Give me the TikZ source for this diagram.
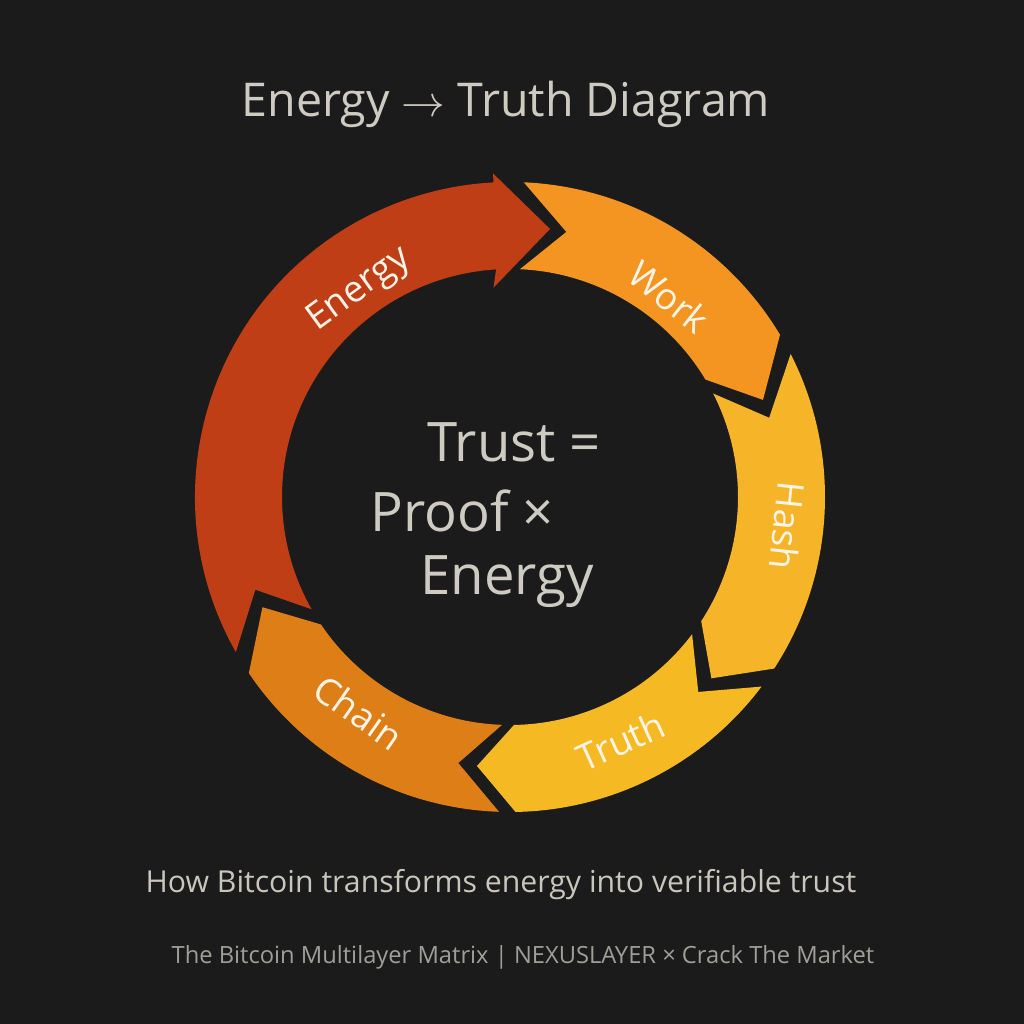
\documentclass[tikz,border=0pt]{standalone}
\usepackage{fontspec}
\setmainfont{Open Sans}
\usetikzlibrary{calc}
\definecolor{BgDark}{RGB}{27,27,27}
\definecolor{EnergyRed}{RGB}{191,62,22}
\definecolor{WorkOrange}{RGB}{244,148,33}
\definecolor{HashGold}{RGB}{246,180,40}
\definecolor{TruthYellow}{RGB}{245,186,35}
\definecolor{ChainOrange}{RGB}{222,126,22}
\definecolor{TextLight}{RGB}{206,204,194}
\definecolor{LabelCream}{RGB}{252,244,230}
\definecolor{FootGray}{RGB}{160,158,152}

\newcommand{\Rout}{315}
\newcommand{\Rin}{228}
\newcommand{\Rmid}{271}
% ring segment: tail, notch, head, tip, colour
\newcommand{\ringseg}[5]{%
  \fill[#5] (#1:\Rout) arc[start angle=#1, end angle=#3, radius=\Rout]
    -- (#4:\Rmid) -- (#3:\Rin) arc[start angle=#3, end angle=#1, radius=\Rin]
    -- (#2:\Rmid) -- cycle;}

\tikzset{
  seglabel/.style={font=\fontsize{21}{25}\selectfont, text=LabelCream},
  eqline/.style={font=\fontsize{31}{36}\selectfont, text=TextLight, anchor=base west, inner sep=0pt},
}

\begin{document}
\begin{tikzpicture}[x=0.02cm,y=0.02cm]
  \fill[BgDark] (0,0) rectangle (1024,1024);
  \useasboundingbox (0,0) rectangle (1024,1024);

  \node[font=\fontsize{26.5}{30}\selectfont, text=TextLight, anchor=base] (title)
    at (506,907) {Energy $\rightarrow$ Truth Diagram};

  \begin{scope}[shift={(510,527)}]
    % Energy arrow with wide head
    \fill[EnergyRed] (209.5:\Rout) arc[start angle=209.5, end angle=93, radius=\Rout]
      -- (93:324) -- (81.5:\Rmid) -- (94.5:210) -- (93.5:\Rin)
      arc[start angle=93.5, end angle=209.5, radius=\Rin] -- (200:\Rmid) -- cycle;
    \ringseg{87.5}{78}{31}{21}{WorkOrange}
    \ringseg{27}{17}{-33}{-42}{HashGold}
    \ringseg{-37}{-46}{-89}{-97}{TruthYellow}
    \ringseg{-92}{-101}{-146}{-156}{ChainOrange}

    \node[seglabel, rotate=36] (lblEnergy) at (126:256) {Energy};
    \node[seglabel, rotate=-38.5] (lblWork) at (51.5:256) {Work};
    \node[seglabel, rotate=-96] (lblHash) at (-6:279) {Hash};
    \node[seglabel, rotate=24.4] (lblTruth) at (-65.6:268) {Truth};
    \node[seglabel, rotate=-35] (lblChain) at (-125:263) {Chain};
  \end{scope}

  \node[eqline] (eqTrust) at (427,562) {Trust =};
  \node[eqline] (eqProof) at (370,492) {Proof ×};
  \node[eqline] (eqEnergy) at (420,429) {Energy};

  \node[font=\fontsize{17.2}{20}\selectfont, text=TextLight!110, anchor=base] (subtitle)
    at (501,131) {How Bitcoin transforms energy into verifiable trust};
  \node[font=\fontsize{13.5}{16}\selectfont, text=FootGray, anchor=base] (footer)
    at (523,60) {The Bitcoin Multilayer Matrix | NEXUSLAYER × Crack The Market};
\end{tikzpicture}
\end{document}
